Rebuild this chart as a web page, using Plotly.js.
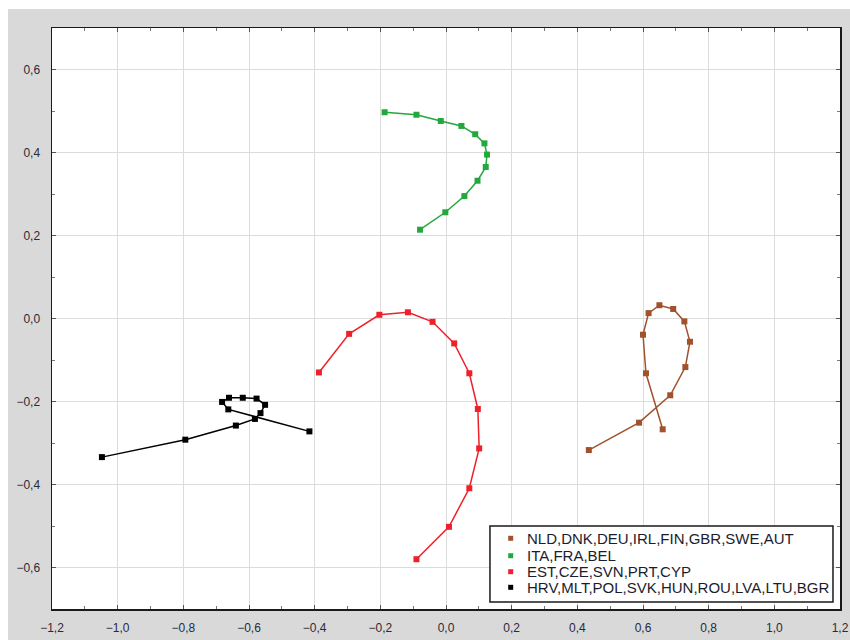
<!DOCTYPE html>
<html>
<head>
<meta charset="utf-8">
<script src="https://cdn.plot.ly/plotly-3.0.1.min.js"></script>
<style>
  html, body { margin: 0; padding: 0; background: #ffffff; width: 850px; height: 640px; overflow: hidden; }
  #chart { position: absolute; left: 8px; top: 9px; width: 842px; height: 631px; }
</style>
</head>
<body>
<div id="chart"></div>
<script>
// Group labels
const groupNames = [
  "NLD,DNK,DEU,IRL,FIN,GBR,SWE,AUT",
  "ITA,FRA,BEL",
  "EST,CZE,SVN,PRT,CYP",
  "HRV,MLT,POL,SVK,HUN,ROU,LVA,LTU,BGR"
];
const groupColors = ["#A0522D", "#22A83C", "#F0202A", "#000000"];

// Brown trajectory
const brownX = [0.435, 0.588, 0.683, 0.729, 0.743, 0.726, 0.692, 0.650, 0.617, 0.600, 0.609, 0.660];
const brownY = [-0.317, -0.251, -0.185, -0.117, -0.056, -0.007, 0.023, 0.032, 0.013, -0.039, -0.132, -0.267];

// Green trajectory
const greenX = [-0.187, -0.090, -0.016, 0.047, 0.089, 0.117, 0.125, 0.121, 0.096, 0.056, -0.002, -0.079];
const greenY = [0.497, 0.491, 0.476, 0.464, 0.444, 0.422, 0.395, 0.365, 0.332, 0.295, 0.256, 0.214];

// Red trajectory
const redX = [-0.387, -0.295, -0.203, -0.116, -0.041, 0.025, 0.071, 0.097, 0.101, 0.071, 0.009, -0.090];
const redY = [-0.130, -0.037, 0.009, 0.015, -0.008, -0.060, -0.132, -0.218, -0.313, -0.409, -0.502, -0.580];

// Black trajectory
const blackX = [-1.048, -0.794, -0.640, -0.582, -0.565, -0.551, -0.577, -0.619, -0.661, -0.682, -0.663, -0.416];
const blackY = [-0.334, -0.292, -0.258, -0.242, -0.228, -0.208, -0.193, -0.191, -0.191, -0.201, -0.219, -0.272];

const seriesX = [brownX, greenX, redX, blackX];
const seriesY = [brownY, greenY, redY, blackY];

const traces = [];
for (let i = 0; i < 4; i++) {
  traces.push({
    type: "scatter", mode: "lines+markers",
    name: groupNames[i],
    x: seriesX[i], y: seriesY[i],
    line: { color: groupColors[i], width: 1.5 },
    marker: { color: groupColors[i], size: 6, symbol: "square" },
    showlegend: false, hoverinfo: "skip"
  });
}

// Custom legend box (paper coordinates of the plot area)
const legendBox = { x0: 0.5558, x1: 0.9911, y0: 0.012, y1: 0.1429 };
const legendRowsY = [0.1217, 0.0917, 0.0642, 0.0373];
const legendMarkerX = 0.5821;
const legendTextX = 0.6005;

const shapes = [{
  type: "rect", xref: "paper", yref: "paper",
  x0: legendBox.x0, x1: legendBox.x1, y0: legendBox.y0, y1: legendBox.y1,
  fillcolor: "#ffffff", line: { color: "#1a1a1a", width: 1.5 }, layer: "above"
}];
const annotations = [];
for (let i = 0; i < 4; i++) {
  shapes.push({
    type: "rect", xref: "paper", yref: "paper",
    xsizemode: "pixel", ysizemode: "pixel",
    xanchor: legendMarkerX, yanchor: legendRowsY[i],
    x0: -2.5, x1: 2.5, y0: -2.5, y1: 2.5,
    fillcolor: groupColors[i], line: { width: 0 }, layer: "above"
  });
  annotations.push({
    xref: "paper", yref: "paper", x: legendTextX, y: legendRowsY[i],
    xanchor: "left", yanchor: "middle", showarrow: false,
    text: groupNames[i],
    font: { family: "Arial, 'Liberation Sans', sans-serif", size: 15, color: "#1c1c30" }
  });
}

const tickFont = { family: "Arial, 'Liberation Sans', sans-serif", size: 12, color: "#2a2a3a" };

const layout = {
  width: 842, height: 631,
  margin: { l: 44, r: 10, t: 19, b: 31 },
  paper_bgcolor: "#d9d9d9",
  plot_bgcolor: "#ffffff",
  separators: ", ",
  showlegend: false,
  shapes: shapes,
  annotations: annotations,
  xaxis: {
    range: [-1.2, 1.2], dtick: 0.2, tick0: 0, tickformat: ".1f",
    showgrid: true, gridcolor: "#dcdcdc", gridwidth: 1,
    zeroline: false,
    showline: true, linecolor: "#1a1a1a", linewidth: 1.5, mirror: "ticks",
    ticks: "inside", ticklen: 4, tickcolor: "#555",
    minor: { dtick: 0.1, ticks: "inside", ticklen: 3, tickcolor: "#777", showgrid: false },
    tickfont: { family: "'Liberation Sans Narrow', 'Arial Narrow', Arial, sans-serif", size: 12, color: "#2a2a3a" },
    ticklabelstandoff: 7,
    fixedrange: true
  },
  yaxis: {
    range: [-0.7, 0.7], dtick: 0.2, tick0: 0, tickformat: ".1f",
    showgrid: true, gridcolor: "#dcdcdc", gridwidth: 1,
    zeroline: false,
    showline: true, linecolor: "#1a1a1a", linewidth: 1.5, mirror: "ticks",
    ticks: "inside", ticklen: 4, tickcolor: "#555",
    minor: { dtick: 0.1, ticks: "inside", ticklen: 3, tickcolor: "#777", showgrid: false },
    tickfont: tickFont,
    ticklabelstandoff: 8,
    fixedrange: true
  }
};

Plotly.newPlot("chart", traces, layout, { displayModeBar: false, staticPlot: true });
</script>
</body>
</html>
